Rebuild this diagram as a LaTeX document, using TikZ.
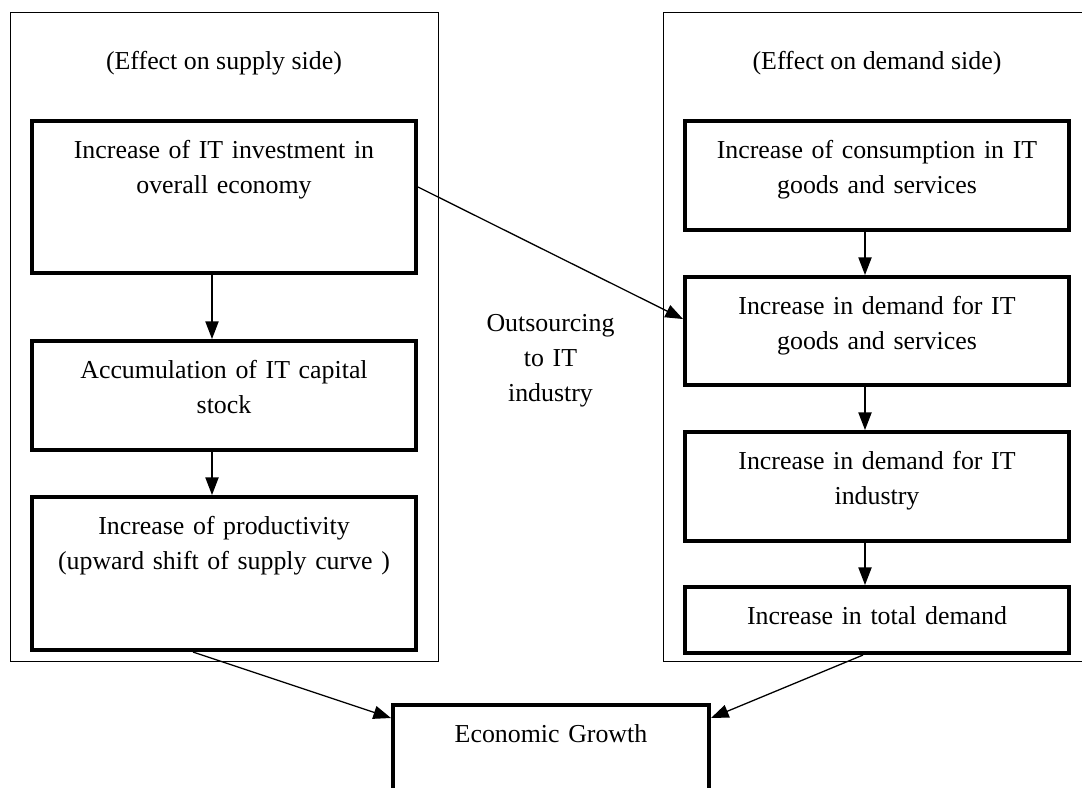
\documentclass[tikz,border=0pt]{standalone}
\usepackage{fontspec}
\setmainfont{Liberation Serif}
\usetikzlibrary{arrows.meta,positioning}

\begin{document}
\begin{tikzpicture}[
    font=\fontsize{18.4pt}{24.9pt}\selectfont,
    frame/.style={
        draw, line width=1.05pt, inner sep=0pt, anchor=north west,
        minimum width=10.7125cm, minimum height=16.2325cm
    },
    side/.style={anchor=base},
    box/.style={
        draw, line width=2.85pt, inner sep=0pt,
        text width=#1, align=center, text height=0.925cm
    },
    box/.default=9.6cm,
    arr/.style={-{Triangle[length=0.44cm, width=0.33cm]}, line width=0.92pt},
    arrlabel/.style={text width=4cm, align=center, inner sep=0pt}
]
    \useasboundingbox (0,0) rectangle (27.05,-19.675);

    % Frames for the two sides
    \node[frame] (supply) at (0.2375,-0.2925) {};
    \node[frame] (demand) at (16.575,-0.2925) {};
    \node[side] (suptitle) at (5.6,-1.74) {(Effect on supply side)};
    \node[side] (demtitle) at (21.925,-1.74) {(Effect on demand side)};

    % Supply side
    \node[box, text depth=2.875cm, anchor=north] (sup1) at (5.6,-2.975)
        {Increase of IT investment in\\overall economy};
    \node[box, text depth=1.8cm, below=1.6cm of sup1] (sup2)
        {Accumulation of IT capital\\stock};
    \node[box, text depth=2.9cm, below=1.075cm of sup2] (sup3)
        {Increase of productivity\\(upward shift of supply curve )};

    % Demand side
    \node[box, text depth=1.8cm, anchor=north] (dem1) at (21.925,-2.975)
        {Increase of consumption in IT\\goods and services};
    \node[box, text depth=1.775cm, below=1.075cm of dem1] (dem2)
        {Increase in demand for IT\\goods and services};
    \node[box, text depth=1.8cm, below=1.075cm of dem2] (dem3)
        {Increase in demand for IT\\industry};
    \node[box, text depth=0.725cm, below=1.05cm of dem3] (dem4)
        {Increase in total demand};

    % Result
    \node[box=7.9cm, text depth=2cm, anchor=north] (growth) at (13.775,-17.575)
        {Economic Growth};

    % Arrows down each column
    \draw[arr] ([xshift=-0.3cm]sup1.south) -- ([xshift=-0.3cm]sup2.north);
    \draw[arr] ([xshift=-0.3cm]sup2.south) -- ([xshift=-0.3cm]sup3.north);
    \draw[arr] ([xshift=-0.3cm]dem1.south) -- ([xshift=-0.3cm]dem2.north);
    \draw[arr] ([xshift=-0.3cm]dem2.south) -- ([xshift=-0.3cm]dem3.north);
    \draw[arr] ([xshift=-0.3cm]dem3.south) -- ([xshift=-0.3cm]dem4.north);

    % Cross link
    \draw[arr] ([yshift=0.25cm]sup1.east) --
        node[arrlabel, below=1.52cm] (outs) {Outsourcing\\to IT\\industry}
        ([yshift=0.3cm]dem2.west);

    % Into growth
    \draw[arr] ([xshift=-0.775cm]sup3.south) -- ([yshift=-0.375cm]growth.north west);
    \draw[arr] ([xshift=-0.35cm]dem4.south) -- ([yshift=-0.375cm]growth.north east);

\end{tikzpicture}
\end{document}
